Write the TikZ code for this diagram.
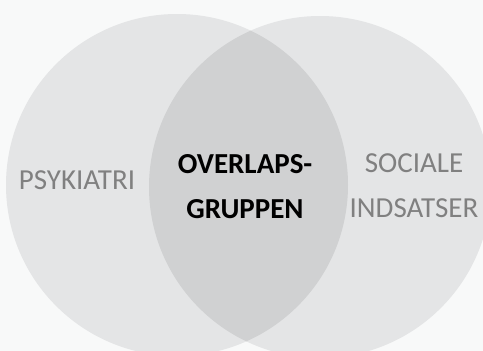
\documentclass[tikz,border=0pt]{standalone}
\usepackage{fontspec}
\setmainfont{Carlito}
\usepackage{tikz}
\usetikzlibrary{positioning}
\definecolor{bgc}{HTML}{F8F9F9}
\definecolor{setc}{HTML}{E4E5E6}
\definecolor{ovlc}{HTML}{D0D1D2}
\definecolor{lblc}{HTML}{808080}
\tikzset{
  lbl/.style={font=\fontsize{29}{35}\selectfont, inner sep=0pt, text=lblc, anchor=base},
  mid/.style={lbl, text=black, font=\fontsize{29}{35}\selectfont\bfseries},
  setfill/.style={fill=setc},
}

\begin{document}
\begin{tikzpicture}[x=1pt,y=-1pt]
\useasboundingbox (0,0) rectangle (483,351);
\clip (0,0) rectangle (483,351);
\fill[bgc] (0,0) rectangle (483,351);
% the two sets
\coordinate (cpsy) at (177,185);
\coordinate (csoc) at (320,187);
\fill[setfill] (cpsy) circle[radius=171];
\fill[setfill] (csoc) circle[radius=171];
% overlap
\begin{scope}
  \clip (cpsy) circle[radius=171];
  \fill[ovlc] (csoc) circle[radius=171];
\end{scope}
% labels
\node[lbl] (psy) at (77,189) {PSYKIATRI};
\node[lbl] (soc) at (414,172) {SOCIALE};
\node[lbl] (ind) at ([yshift=-45pt]soc.base) {INDSATSER};
\node[mid] (ovl) at (245,173) {OVERLAPS-};
\node[mid] (grp) at ([yshift=-45pt]ovl.base) {GRUPPEN};
\end{tikzpicture}
\end{document}
